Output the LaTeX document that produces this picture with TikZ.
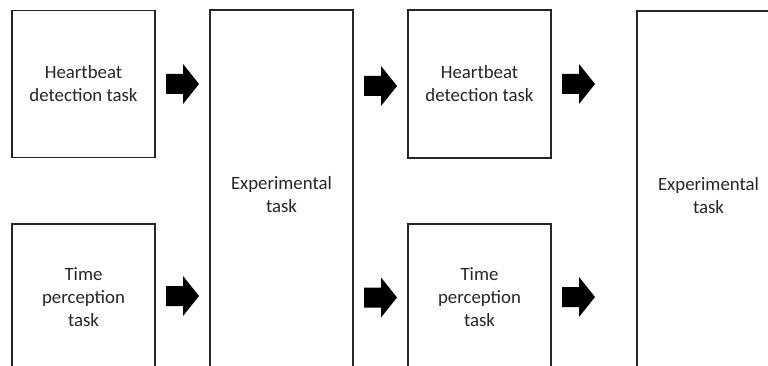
\documentclass[tikz,border=0pt]{standalone}
\usepackage{fontspec}
\setmainfont{Carlito}
\tikzset{
  taskbox/.style={draw=black!85, line width=1.2pt, fill=white, inner sep=0pt,
    align=center, font=\fontsize{18.8}{23}\selectfont, text=black!85},
  fatarrow/.pic={\fill[black] (0,-10) -- (17,-10) -- (17,-20) -- (33,0) -- (17,20) -- (17,10) -- (0,10) -- cycle;}
}
\begin{document}
\begin{tikzpicture}[x=1pt,y=-1pt]
\useasboundingbox (0,0) rectangle (768,366);
\clip (0,0) rectangle (768,366);
\fill[white] (0,0) rectangle (768,366);
% boxes
\node[taskbox, minimum width=143pt, minimum height=147pt] (hb1) at (83.5,84) {Heartbeat\\detection task};
\node[taskbox, minimum width=143pt, minimum height=146pt] (tp1) at (83.5,297) {Time\\perception\\task};
\node[taskbox, minimum width=143pt, minimum height=370pt] (ex1) at (281.5,195) {Experimental\\task};
\node[taskbox, minimum width=143pt, minimum height=148pt] (hb2) at (479.5,84) {Heartbeat\\detection task};
\node[taskbox, minimum width=143pt, minimum height=146pt] (tp2) at (479.5,297) {Time\\perception\\task};
\node[taskbox, minimum width=143pt, minimum height=369pt] (ex2) at (708.5,195.5) {Experimental\\task};
% arrows
\pic (a1) at (166,84) {fatarrow};
\pic (a2) at (166,296) {fatarrow};
\pic (a3) at (364,86) {fatarrow};
\pic (a4) at (364,297.5) {fatarrow};
\pic (a5) at (562,84) {fatarrow};
\pic (a6) at (562,297) {fatarrow};
\end{tikzpicture}
\end{document}
